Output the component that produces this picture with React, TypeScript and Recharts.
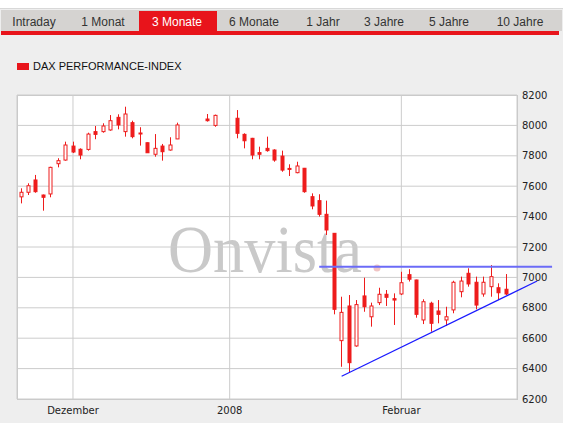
import React from "react";
import {
  ComposedChart,
  Bar,
  XAxis,
  YAxis,
  CartesianGrid,
  ReferenceLine,
} from "recharts";

// DAX daily candles, trading days only (holidays stay as empty weekday slots)
const dates = [
  "2007-11-22", "2007-11-23", "2007-11-26", "2007-11-27", "2007-11-28", "2007-11-29", "2007-11-30",
  "2007-12-03", "2007-12-04", "2007-12-05", "2007-12-06", "2007-12-07",
  "2007-12-10", "2007-12-11", "2007-12-12", "2007-12-13", "2007-12-14",
  "2007-12-17", "2007-12-18", "2007-12-19", "2007-12-20", "2007-12-21",
  "2007-12-27", "2007-12-28",
  "2008-01-02", "2008-01-03", "2008-01-04",
  "2008-01-07", "2008-01-08", "2008-01-09", "2008-01-10", "2008-01-11",
  "2008-01-14", "2008-01-15", "2008-01-16", "2008-01-17", "2008-01-18",
  "2008-01-21", "2008-01-22", "2008-01-23", "2008-01-24", "2008-01-25",
  "2008-01-28", "2008-01-29", "2008-01-30", "2008-01-31", "2008-02-01",
  "2008-02-04", "2008-02-05", "2008-02-06", "2008-02-07", "2008-02-08",
  "2008-02-11", "2008-02-12", "2008-02-13", "2008-02-14", "2008-02-15",
  "2008-02-18", "2008-02-19", "2008-02-20", "2008-02-21",
];

const open = [
  7530, 7560, 7641, 7542, 7549, 7748, 7772,
  7864, 7843, 7842, 7959, 7959,
  7970, 8053, 7959, 8018, 7950,
  7886, 7810, 7864, 7838, 7911,
  8042, 8000,
  8047, 7941, 7915,
  7821, 7849, 7838, 7798, 7717,
  7689, 7718, 7531, 7505, 7415,
  7290, 6584, 6812, 6549, 6878,
  6741, 6834, 6889, 6860, 6891,
  7018, 6983, 6720, 6830, 6779,
  6720, 6786, 6906, 7027, 6968,
  6891, 6939, 6932, 6922,
];

const high = [
  7586, 7619, 7674, 7545, 7728, 7784, 7893,
  7893, 7849, 7952, 7996, 8014,
  8068, 8073, 8123, 8031, 7988,
  7888, 7943, 7878, 7922, 8018,
  8075, 8071,
  8101, 7948, 7918,
  7860, 7926, 7843, 7834, 7744,
  7761, 7720, 7553, 7547, 7505,
  7292, 6873, 6884, 6851, 6998,
  6834, 6932, 6917, 6895, 7037,
  7054, 6985, 6856, 6840, 6851,
  6807, 6978, 7005, 7060, 7005,
  7005, 7081, 6961, 7022,
];

const low = [
  7487, 7542, 7557, 7439, 7527, 7724, 7768,
  7818, 7777, 7834, 7909, 7952,
  7965, 7974, 7926, 7915, 7867,
  7821, 7794, 7768, 7834, 7910,
  8025, 7991,
  7915, 7849, 7777,
  7777, 7827, 7761, 7695, 7667,
  7685, 7557, 7448, 7400, 7279,
  6757, 6412, 6373, 6544, 6774,
  6676, 6818, 6812, 6687, 6884,
  6973, 6735, 6693, 6643, 6698,
  6680, 6764, 6869, 6939, 6790,
  6873, 6873, 6851, 6884,
];

const close = [
  7560, 7603, 7564, 7527, 7724, 7768, 7871,
  7825, 7805, 7943, 7941, 7996,
  8031, 8003, 8075, 7926, 7946,
  7820, 7849, 7827, 7871, 8003,
  8031, 8066,
  7948, 7899, 7805,
  7810, 7834, 7772, 7706, 7713,
  7733, 7564, 7470, 7415, 7312,
  6790, 6770, 6439, 6821, 6807,
  6812, 6889, 6869, 6851, 6965,
  6988, 6757, 6840, 6698, 6757,
  6741, 6968, 6976, 6957, 6818,
  6968, 7005, 6899, 6891,
];

const priceTicks = [6200, 6400, 6600, 6800, 7000, 7200, 7400, 7600, 7800, 8000, 8200];
const monthTickDates = ["2007-12-03", "2008-01-01", "2008-02-01"];
const monthTickLabels = ["Dezember", "2008", "Februar"];

// trend lines drawn on top, as [weekday slot, index value]
const resistance = [
  [40, 7070],
  [71.2, 7070],
];
const support = [
  [43, 6350],
  [69.2, 6976],
];

const tabs = ["Intraday", "1 Monat", "3 Monate", "6 Monate", "1 Jahr", "3 Jahre", "5 Jahre", "10 Jahre"];
const tabCenters = [34, 103, 177, 254, 323, 384, 449, 520];
const activeTab = 2;

const RED = "#e8141b";
const CANDLE = "#ee1c1c";

// x position = number of weekdays since the first candle
const START = Date.UTC(2007, 10, 22);
function weekdaySlot(iso: string) {
  const t = Date.parse(iso + "T00:00:00Z");
  let n = 0;
  for (let d = START; d < t; d += 86400000) {
    const wd = new Date(d).getUTCDay();
    if (wd !== 0 && wd !== 6) n++;
  }
  return n;
}

const rows = dates.map((d, i) => ({
  slot: weekdaySlot(d),
  open: open[i],
  high: high[i],
  low: low[i],
  close: close[i],
}));

const monthTicks = monthTickDates.map(weekdaySlot);

const Candle = (props: any) => {
  const { x, y, width, height, payload } = props;
  if (!payload || x == null) return null;
  const top = Math.min(y, y + height);
  const h = Math.abs(height);
  const k = h / (payload.high - payload.low || 1);
  const cx = Math.round(x + width / 2) + 0.5;
  const yo = top + (payload.high - payload.open) * k;
  const yc = top + (payload.high - payload.close) * k;
  const up = payload.close >= payload.open;
  const bodyTop = Math.min(yo, yc);
  const bodyH = Math.max(Math.abs(yo - yc), 1);
  return (
    <g>
      <line x1={cx} x2={cx} y1={top} y2={top + h} stroke={CANDLE} strokeWidth={1} />
      <rect
        x={cx - 1.5}
        y={bodyTop}
        width={3}
        height={bodyH}
        fill={up ? "#fff" : CANDLE}
        stroke={CANDLE}
        strokeWidth={1}
      />
    </g>
  );
};

const axisFont = { fontSize: 10, fontFamily: "DejaVu Sans", fill: "#222" };

export default function App() {
  return (
    <div
      style={{
        position: "absolute",
        left: 0,
        top: 0,
        width: 569,
        height: 423,
        background: "#fff",
        overflow: "hidden",
        fontFamily: "'Liberation Sans', Arial, sans-serif",
      }}
    >
      <div
        style={{
          position: "absolute",
          left: 0,
          top: 8,
          width: 563,
          height: 415,
          background: "#eeeeee",
          borderTop: "1px solid #d8d8d8",
          boxSizing: "border-box",
        }}
      />
      {/* period tabs */}
      <div style={{ position: "absolute", left: 1, top: 10, width: 561, height: 21, background: "#d5d3d1" }} />
      <div style={{ position: "absolute", left: 139, top: 11, width: 78, height: 21, background: RED }} />
      <div style={{ position: "absolute", left: 1, top: 31, width: 558, height: 4, background: RED }} />
      {tabs.map((t, i) => (
        <span
          key={t}
          style={{
            position: "absolute",
            left: tabCenters[i],
            top: 12,
            transform: "translateX(-50%)",
            fontSize: 12,
            lineHeight: "20px",
            whiteSpace: "nowrap",
            color: i === activeTab ? "#fff" : "#333",
          }}
        >
          {t}
        </span>
      ))}

      {/* legend */}
      <div style={{ position: "absolute", left: 17, top: 63, width: 12, height: 7, background: RED }} />
      <span
        style={{
          position: "absolute",
          left: 33,
          top: 59,
          fontSize: 11,
          lineHeight: "14px",
          color: "#111",
          whiteSpace: "nowrap",
        }}
      >
        DAX PERFORMANCE-INDEX
      </span>

      {/* plot background */}
      <div
        style={{
          position: "absolute",
          left: 17,
          top: 95,
          width: 501,
          height: 305,
          background: "#fff",
          border: "1px solid #c8c8c8",
          boxSizing: "border-box",
        }}
      />
      <svg
        width={569}
        height={423}
        style={{ position: "absolute", left: 0, top: 0 }}
      >
        <text
          x={168}
          y={272}
          fontFamily="'Liberation Serif', serif"
          fontSize={68}
          fill="#c9c9c9"
          textLength={194}
          lengthAdjust="spacingAndGlyphs"
        >
          Onvista
        </text>
        <circle cx={377} cy={268} r={3.5} fill="#f0c4c4" />
      </svg>

      <div style={{ position: "absolute", left: 0, top: 0 }}>
        <ComposedChart
          width={569}
          height={423}
          data={rows}
          margin={{ top: 95, right: 0, bottom: 0, left: 17 }}
        >
          <CartesianGrid stroke="#cccccc" strokeWidth={1} />
          <XAxis
            dataKey="slot"
            type="number"
            domain={[-0.5, 66.5]}
            allowDataOverflow
            ticks={monthTicks}
            interval={0}
            tickFormatter={(v) => monthTickLabels[monthTicks.indexOf(v)] ?? ""}
            height={24}
            axisLine={false}
            tickLine={false}
            tickSize={0}
            tickMargin={8}
            tick={axisFont}
          />
          <YAxis
            orientation="right"
            type="number"
            domain={[6200, 8200]}
            allowDataOverflow
            ticks={priceTicks}
            interval={0}
            width={52}
            axisLine={false}
            tickLine={false}
            tickSize={0}
            tickMargin={5}
            tick={axisFont}
          />
          <Bar
            dataKey={(d: any) => [d.low, d.high]}
            barSize={5}
            shape={<Candle />}
            isAnimationActive={false}
          />
          <ReferenceLine
            segment={[
              { x: resistance[0][0], y: resistance[0][1] },
              { x: resistance[1][0], y: resistance[1][1] },
            ]}
            stroke="#6b6bf7"
            strokeWidth={2}
            ifOverflow="visible"
          />
          <ReferenceLine
            segment={[
              { x: support[0][0], y: support[0][1] },
              { x: support[1][0], y: support[1][1] },
            ]}
            stroke="#1a1aff"
            strokeWidth={1.2}
            ifOverflow="visible"
          />
        </ComposedChart>
      </div>
    </div>
  );
}
